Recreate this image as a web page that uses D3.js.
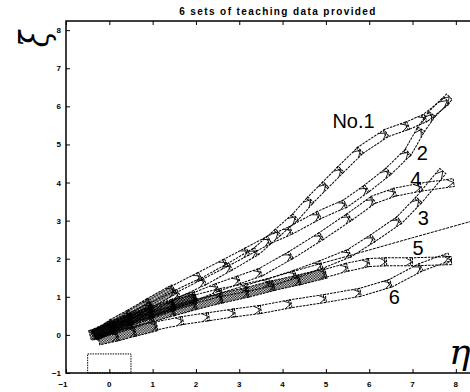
<!DOCTYPE html>
<html>
<head>
<meta charset="utf-8">
<script src="https://cdn.jsdelivr.net/npm/d3@7"></script>
<style>
  body { margin: 0; background: #fff; }
  svg { display: block; }
  .tick-label { font-family: "Liberation Sans", Arial, sans-serif; font-size: 8px; font-weight: bold; }
</style>
</head>
<body>
<div class="graph"></div>
<script>
/*---------- DATA ----------*/

// teaching trajectories, [eta, xi] pairs
const TRAJ1 = [[-0.35,0.02],[0.1,0.25],[0.5,0.45],[1.0,0.75],[1.6,1.1],[2.2,1.42],[2.8,1.8],[3.4,2.2],[3.9,2.7],[4.3,3.1],[4.65,3.55],[5.0,3.95],[5.35,4.35],[5.8,4.85],[6.4,5.3],[6.9,5.5],[7.3,5.7],[7.8,6.15]];
const TRAJ2 = [[-0.3,0.0],[0.1,0.3],[0.5,0.55],[0.95,0.85],[1.5,1.2],[2.1,1.55],[2.7,1.9],[3.2,2.2],[3.7,2.5],[4.2,2.75],[4.85,3.15],[5.45,3.45],[5.95,3.85],[6.45,4.3],[6.9,4.8],[7.2,5.4],[7.45,5.8],[7.85,6.25]];
const TRAJ3 = [[-0.3,0.0],[0.1,0.2],[0.5,0.38],[1.0,0.58],[1.5,0.78],[2.0,0.95],[2.6,1.12],[3.2,1.25],[3.7,1.38],[4.3,1.6],[4.9,1.85],[5.55,2.15],[6.1,2.55],[6.7,3.02],[7.15,3.55],[7.7,4.3]];
const TRAJ4 = [[-0.3,0.02],[0.1,0.22],[0.5,0.42],[1.0,0.62],[1.5,0.82],[2.0,1.02],[2.5,1.25],[3.0,1.45],[3.5,1.65],[4.2,2.1],[4.9,2.6],[5.55,3.1],[6.1,3.55],[6.6,3.75],[7.2,3.88],[7.95,4.0]];
const TRAJ5 = [[-0.4,0.0],[0.1,0.16],[0.5,0.3],[1.0,0.48],[1.5,0.64],[2.0,0.8],[2.6,0.97],[3.2,1.12],[3.8,1.3],[4.4,1.45],[5.0,1.62],[5.5,1.78],[6.0,1.9],[6.4,1.92],[7.0,1.92],[7.9,1.95]];
const TRAJ6 = [[-0.2,-0.12],[0.2,-0.02],[0.6,0.1],[1.1,0.24],[1.7,0.38],[2.3,0.48],[2.9,0.58],[3.5,0.67],[4.2,0.82],[5.0,0.96],[5.8,1.12],[6.5,1.36],[7.2,1.78],[7.85,2.05]];
const EXTRA_LINE = [[0.0,0.12],[1.5,0.7],[3.0,1.25],[4.5,1.75],[5.6,2.1],[7.0,2.55],[8.35,2.98]];

// starting box (eta, xi corners)
const START_BOX = [[-0.5,-1],[0.5,-0.5]];

const TRAJ_NAMES = ["No.1","2","3","4","5","6"];
const X_TICKS = [-1,0,1,2,3,4,5,6,7,8];
const Y_TICKS = [-1,0,1,2,3,4,5,6,7,8];
const TITLE = "6 sets of teaching data provided";

/*---------- LAYOUT ----------*/

const SIZE = {X:470, Y:392};
const trajectories = [TRAJ1, TRAJ2, TRAJ3, TRAJ4, TRAJ5, TRAJ6];
// where each number sits, in data units
const LABEL_AT = [[5.15,5.42],[7.1,4.6],[7.12,2.88],[6.95,3.92],[7.0,2.1],[6.45,0.8]];
// boxes are shaded (dense) up to this eta
const DENSE_UNTIL = [1.0,1.8,1.8,1.8,5.2,1.2];

const svg = d3.select(".graph").append("svg")
    .attr("width", SIZE.X)
    .attr("height", SIZE.Y);

const defs = svg.append("defs");
const pat = defs.append("pattern")
    .attr("id", "dense")
    .attr("width", 2).attr("height", 2)
    .attr("patternUnits", "userSpaceOnUse");
pat.append("rect").attr("width", 1).attr("height", 1).attr("fill", "black");
pat.append("rect").attr("x", 1).attr("y", 1).attr("width", 1).attr("height", 1).attr("fill", "black");

var x = d3.scaleLinear().domain([-1, 8.35]).range([66, 471]);
var y = d3.scaleLinear().domain([-1, 8.24]).range([373, 21]);

//title
svg.append("text")
    .attr("x", 278).attr("y", 15)
    .attr("text-anchor", "middle")
    .style("font-family", "Liberation Sans, Arial, sans-serif")
    .style("font-size", "10px")
    .style("font-weight", "bold")
    .style("letter-spacing", "1.4px")
    .text(TITLE);

//frame: left, bottom and top lines
svg.append("path")
    .attr("d", `M${SIZE.X},${y(8.24)}H${x(-1)}V${y(-1)}H${SIZE.X}`)
    .attr("fill", "none")
    .attr("stroke", "black")
    .attr("stroke-width", 1.5);

//ticks pointing inward
const xAxisBottom = d3.axisTop(x).tickValues(X_TICKS).tickSize(4).tickFormat("");
const xAxisTop = d3.axisBottom(x).tickValues(X_TICKS).tickSize(4).tickFormat("");
const yAxisLeft = d3.axisRight(y).tickValues(Y_TICKS).tickSize(4).tickFormat("");

svg.append("g").attr("transform", `translate(0,${y(-1)})`).call(xAxisBottom);
svg.append("g").attr("transform", `translate(0,${y(8.24)})`).call(xAxisTop);
svg.append("g").attr("transform", `translate(${x(-1)},0)`).call(yAxisLeft);
svg.selectAll(".domain").remove();
svg.selectAll(".tick line").attr("stroke", "black");

//tick labels
svg.selectAll(".xlab")
    .data(X_TICKS)
    .enter().append("text")
    .attr("class", "tick-label")
    .attr("x", d => x(d) + (d < 0 ? -3 : 0))
    .attr("y", 387)
    .attr("text-anchor", "middle")
    .text(d => d < 0 ? "\u2212" + Math.abs(d) : d);

svg.selectAll(".ylab")
    .data(Y_TICKS)
    .enter().append("text")
    .attr("class", "tick-label")
    .attr("x", 61)
    .attr("y", d => y(d) + 3)
    .attr("text-anchor", "end")
    .text(d => d < 0 ? "\u2212" + Math.abs(d) : d);

//axis names
svg.append("text")
    .attr("transform", "translate(35,39) rotate(-90) scale(1,1.3)")
    .attr("text-anchor", "middle")
    .attr("dominant-baseline", "central")
    .style("font-family", "DejaVu Serif, serif")
    .style("font-style", "italic")
    .style("font-size", "30px")
    .text("\u03be");

svg.append("text")
    .attr("x", 449).attr("y", 364)
    .style("font-family", "DejaVu Serif, serif")
    .style("font-style", "italic")
    .style("font-size", "36px")
    .text("\u03b7");

//starting box
svg.append("rect")
    .attr("x", x(START_BOX[0][0]))
    .attr("y", y(START_BOX[1][1]))
    .attr("width", x(START_BOX[1][0]) - x(START_BOX[0][0]))
    .attr("height", y(START_BOX[0][1]) - y(START_BOX[1][1]))
    .attr("fill", "none")
    .attr("stroke", "black")
    .attr("stroke-width", 1)
    .attr("stroke-dasharray", "1.5,1");

//trajectories
const plot = svg.append("g");

line = d3.line()
    .curve(d3.curveCatmullRom)
    .x(d => x(d[0]))
    .y(d => y(d[1]));

plot.append("path")
    .datum(EXTRA_LINE)
    .attr("d", line)
    .attr("fill", "none")
    .attr("stroke", "black")
    .attr("stroke-width", 1)
    .attr("stroke-dasharray", "3,1");

trajectories.forEach((traj, k) => {
    const g = plot.append("g");

    //one box per step, joining two successive positions
    for (let i = 0; i < traj.length - 1; i++) {
        const x0 = x(traj[i][0]), y0 = y(traj[i][1]);
        const x1 = x(traj[i+1][0]), y1 = y(traj[i+1][1]);
        const len = Math.hypot(x1 - x0, y1 - y0);
        const ang = Math.atan2(y1 - y0, x1 - x0) * 180 / Math.PI;
        const dense = (traj[i][0] + traj[i+1][0]) / 2 < DENSE_UNTIL[k];
        const w = dense ? 10 : 8;

        const box = g.append("g")
            .attr("transform", `translate(${x0},${y0}) rotate(${ang})`);

        box.append("rect")
            .attr("x", -2)
            .attr("y", -w / 2)
            .attr("width", len + 2)
            .attr("height", w)
            .attr("fill", dense ? "url(#dense)" : "none")
            .attr("stroke", "black")
            .attr("stroke-width", 1)
            .attr("stroke-dasharray", "2.5,1");

        //small wedge at the joint
        box.append("path")
            .attr("d", `M${len - 7},${-w / 2}L${len},0L${len - 7},${w / 2}`)
            .attr("fill", "none")
            .attr("stroke", "black")
            .attr("stroke-width", 0.8);
    }

    svg.append("text")
        .attr("x", x(LABEL_AT[k][0]))
        .attr("y", y(LABEL_AT[k][1]))
        .style("font-family", "Liberation Sans, Arial, sans-serif")
        .style("font-size", "20px")
        .text(TRAJ_NAMES[k]);
});
</script>
</body>
</html>
